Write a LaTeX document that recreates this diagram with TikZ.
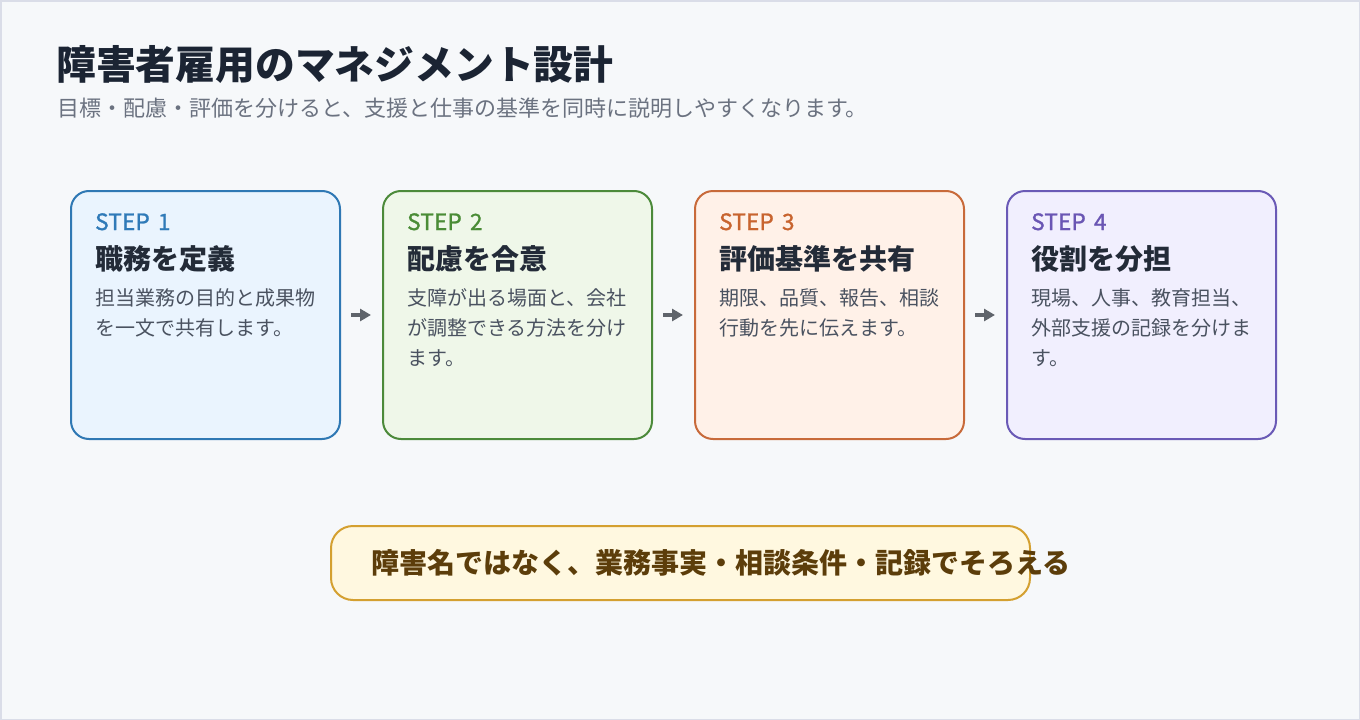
\documentclass[tikz,border=0pt]{standalone}
\usepackage{fontspec}
\setmainfont{Noto Sans CJK JP}
\usetikzlibrary{arrows.meta}
\definecolor{bgc}{HTML}{F6F8FA}
\definecolor{bgline}{HTML}{DADDE8}
\definecolor{titlec}{HTML}{1B2433}
\definecolor{subc}{HTML}{6B7280}
\definecolor{headc}{HTML}{232B38}
\definecolor{bodyc}{HTML}{4A5260}
\definecolor{arrc}{HTML}{5F646B}
\definecolor{lineA}{HTML}{2F78B4}\definecolor{fillA}{HTML}{EAF4FE}\definecolor{textA}{HTML}{2F7AB8}
\definecolor{lineB}{HTML}{4C8A3A}\definecolor{fillB}{HTML}{EFF7E9}\definecolor{textB}{HTML}{4A8C36}
\definecolor{lineC}{HTML}{C86A3A}\definecolor{fillC}{HTML}{FFF1E8}\definecolor{textC}{HTML}{C8642F}
\definecolor{lineD}{HTML}{6A5AB6}\definecolor{fillD}{HTML}{F1EFFE}\definecolor{textD}{HTML}{6A56B4}
\definecolor{lineE}{HTML}{D4A030}\definecolor{fillE}{HTML}{FFF8E0}\definecolor{textE}{HTML}{5C3D0A}
\newcommand{\steptxt}[1]{\addfontfeatures{LetterSpace=1,FakeBold=1.2}STEP\hspace{3pt} #1}
\begin{document}
\begin{tikzpicture}[x=1pt,y=-1pt,
  stepbox/.style={draw, line width=2pt, rounded corners=18pt, minimum width=269pt, minimum height=248pt, inner sep=0pt},
  steplbl/.style={anchor=base west, inner sep=0pt, font=\fontsize{22.5}{22.5}\selectfont},
  headlbl/.style={anchor=base west, inner sep=0pt, text=headc, font=\fontsize{28}{28}\selectfont\bfseries},
  bodylbl/.style={anchor=base west, inner sep=0pt, text=bodyc, font=\fontsize{20}{20}\selectfont},
  arr/.style={draw=arrc, line width=3.5pt, -{Triangle[length=11pt,width=12pt]}, shorten <=10pt, shorten >=11pt}
]
\path[fill=bgc, draw=bgline, line width=1.5pt] (0.75,0.75) rectangle (1359.25,719.25);
\useasboundingbox (0,0) rectangle (1360,720);

\node[anchor=base west, inner sep=0pt, text=titlec, font=\fontsize{39.8}{39.8}\selectfont\bfseries] (title) at (56,79) {障害者雇用のマネジメント設計};
\node[anchor=base west, inner sep=0pt, text=subc, font=\fontsize{22}{22}\selectfont] (sub) at (57,116) {目標・配慮・評価を分けると、支援と仕事の基準を同時に説明しやすくなります。};

\node[stepbox, draw=lineA, fill=fillA] (b1) at (205.5,315) {};
\node[stepbox, draw=lineB, fill=fillB] (b2) at (517.5,315) {};
\node[stepbox, draw=lineC, fill=fillC] (b3) at (829.5,315) {};
\node[stepbox, draw=lineD, fill=fillD] (b4) at (1141.5,315) {};

\node[steplbl, text=textA] (s1) at (95,230) {\steptxt{1}};
\node[headlbl] (h1) at (95,269) {職務を定義};
\node[bodylbl] (t1a) at (95,305) {担当業務の目的と成果物};
\node[bodylbl] (t1b) at (95,335) {を一文で共有します。};

\node[steplbl, text=textB] (s2) at (407,230) {\steptxt{2}};
\node[headlbl] (h2) at (407,269) {配慮を合意};
\node[bodylbl] (t2a) at (407,305) {支障が出る場面と、会社};
\node[bodylbl] (t2b) at (407,335) {が調整できる方法を分け};
\node[bodylbl] (t2c) at (407,365) {ます。};

\node[steplbl, text=textC] (s3) at (719,230) {\steptxt{3}};
\node[headlbl] (h3) at (719,269) {評価基準を共有};
\node[bodylbl] (t3a) at (719,305) {期限、品質、報告、相談};
\node[bodylbl] (t3b) at (719,335) {行動を先に伝えます。};

\node[steplbl, text=textD] (s4) at (1031,230) {\steptxt{4}};
\node[headlbl] (h4) at (1031,269) {役割を分担};
\node[bodylbl] (t4a) at (1031,305) {現場、人事、教育担当、};
\node[bodylbl] (t4b) at (1031,335) {外部支援の記録を分けま};
\node[bodylbl] (t4c) at (1031,365) {す。};

\draw[arr] (b1.east) -- (b2.west);
\draw[arr] (b2.east) -- (b3.west);
\draw[arr] (b3.east) -- (b4.west);

\node[draw=lineE, fill=fillE, line width=2pt, rounded corners=22pt, minimum width=699pt, minimum height=74pt, inner sep=0pt] (note) at (680.5,563) {};
\node[anchor=base west, inner sep=0pt, text=textE, font=\fontsize{28}{28}\selectfont\bfseries] (notet) at (371,573) {障害名ではなく、業務事実・相談条件・記録でそろえる};
\end{tikzpicture}
\end{document}
